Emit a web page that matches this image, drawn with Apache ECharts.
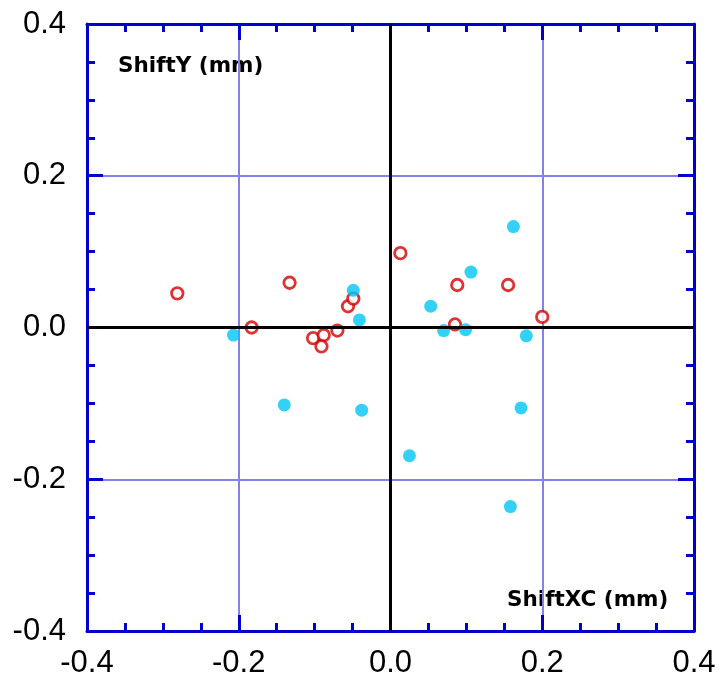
<!DOCTYPE html>
<html>
<head>
<meta charset="utf-8">
<script src="https://cdn.jsdelivr.net/npm/echarts@6/dist/echarts.min.js"></script>
<style>
    html, body { margin: 0; padding: 0; background: #fff; }
    #shift { width: 719px; height: 679px; }
</style>
</head>
<body>
<div id="shift"></div>
<script>
// red open circles
var redX = [-0.281, -0.183, -0.133, -0.102, -0.088, -0.091, -0.070, -0.056, -0.049, 0.013, 0.088, 0.085, 0.155, 0.200];
var redY = [0.045, 0.000, 0.059, -0.014, -0.010, -0.025, -0.004, 0.028, 0.038, 0.098, 0.056, 0.004, 0.056, 0.014];
// cyan filled dots
var cyanX = [-0.207, -0.140, -0.049, -0.041, -0.038, 0.025, 0.053, 0.070, 0.099, 0.106, 0.162, 0.179, 0.172, 0.158];
var cyanY = [-0.010, -0.102, 0.049, 0.010, -0.109, -0.169, 0.028, -0.004, -0.003, 0.073, 0.133, -0.011, -0.106, -0.236];
var axisMin = -0.4, axisMax = 0.4, axisStep = 0.2;

var shiftChart = echarts.init(document.getElementById('shift'));

function pairs(xs, ys) {
    var out = [];
    for (var i = 0; i < xs.length; i++) {
        out.push([xs[i], ys[i]]);
    }
    return out;
}

var blue = '#0000cc';

function makeAxis(pos, showLabel) {
    return {
        type: 'value',
        position: pos,
        min: axisMin,
        max: axisMax,
        interval: axisStep,
        axisLine: { show: true, onZero: false, lineStyle: { color: blue, width: 3 } },
        axisTick: { show: true, inside: true, length: 16, lineStyle: { color: blue, width: 3 } },
        minorTick: { show: true, splitNumber: 4, length: 8, lineStyle: { color: blue, width: 3 } },
        splitLine: { show: showLabel, lineStyle: { color: '#8282ea', width: 2 } },
        axisLabel: {
            show: showLabel,
            margin: pos === 'bottom' ? 17 : 21,
            color: '#000',
            fontFamily: 'Liberation Sans',
            fontSize: 31,
            formatter: function (v) { return v.toFixed(1); }
        }
    };
}

var labelStyle = {
    fill: '#000',
    fontFamily: 'DejaVu Sans',
    fontWeight: 'bold',
    fontSize: 21.5
};

var option = {
    animation: false,
    grid: { left: 87, right: 25, top: 24, bottom: 47 },
    xAxis: [makeAxis('bottom', true), makeAxis('top', false)],
    yAxis: [makeAxis('left', true), makeAxis('right', false)],
    graphic: [
        { type: 'text', left: 118, top: 55, style: Object.assign({ text: 'ShiftY (mm)' }, labelStyle) },
        { type: 'text', left: 507, top: 589, style: Object.assign({ text: 'ShiftXC (mm)' }, labelStyle) }
    ],
    series: [
        {
            name: 'red',
            type: 'scatter',
            symbol: 'circle',
            symbolSize: 11.5,
            itemStyle: { color: '#fff', borderColor: '#d40000', borderWidth: 2.8 },
            data: pairs(redX, redY),
            markLine: {
                silent: true,
                symbol: 'none',
                label: { show: false },
                lineStyle: { color: '#000', width: 3, type: 'solid' },
                data: [{ xAxis: 0 }, { yAxis: 0 }]
            },
            z: 3
        },
        {
            name: 'cyan',
            type: 'scatter',
            symbol: 'circle',
            symbolSize: 13,
            itemStyle: { color: '#00c6f6' },
            data: pairs(cyanX, cyanY),
            z: 4
        }
    ]
};

shiftChart.setOption(option);
</script>
</body>
</html>
